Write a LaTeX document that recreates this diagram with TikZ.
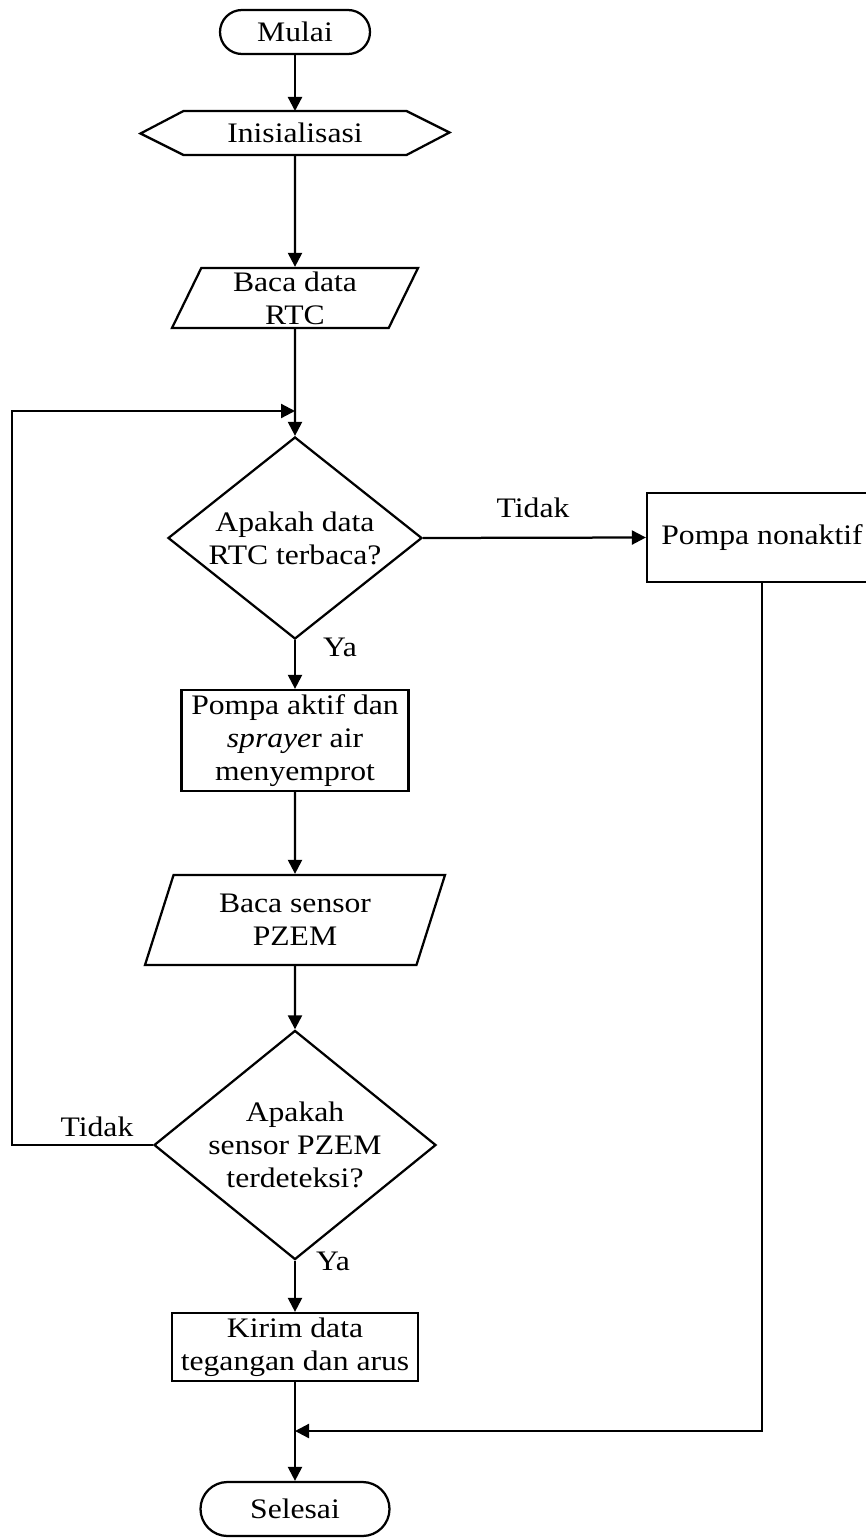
\documentclass[tikz,border=0pt]{standalone}
\usepackage{fontspec}
\setmainfont[FakeStretch=1.12]{Liberation Serif}
\usetikzlibrary{shapes.geometric,arrows.meta}

\begin{document}
\begin{tikzpicture}[x=0.4pt,y=-0.4pt,
  every node/.style={font=\fontsize{11.3}{13.2}\selectfont},
  flowline/.style={line width=0.9pt},
  arrowline/.style={flowline,-{Triangle[length=5.6pt,width=5.6pt]}},
  terminal/.style={draw,line width=0.9pt,rectangle,rounded corners=8.8pt,inner sep=0pt},
  hexbody/.style={inner sep=0pt,minimum width=88.8pt,minimum height=17.2pt},
  iobox/.style={draw,line width=0.9pt,trapezium,trapezium left angle=61,trapezium right angle=119,
    trapezium stretches body,inner sep=0pt,align=center},
  process/.style={draw,line width=0.9pt,rectangle,inner sep=0pt,align=center},
  decision/.style={draw,line width=0.9pt,diamond,inner sep=-3pt,align=center}]
\useasboundingbox (0,0) rectangle (866,1539);

% Draw the blocks
\node[terminal,minimum width=60pt,minimum height=17.6pt] (start) at (295,32) {Mulai};
\node[hexbody] (init) at (295,133) {Inisialisasi};
\draw[flowline] (init.north west) -- (init.north east) -- ++(43,21.5) -- (init.south east)
  -- (init.south west) -- ++(-43,-21.5) -- cycle;
\node[iobox,minimum width=98.4pt,minimum height=24pt] (rtc) at (295,298) {Baca data\\RTC};
\node[decision,minimum width=101.6pt,minimum height=80.8pt] (q1) at (295,538) {Apakah data\\RTC terbaca?};
\node[process,minimum width=92pt,minimum height=35.6pt] (nonaktif) at (762,537.5) {Pompa nonaktif};
\node[process,minimum width=90.8pt,minimum height=40.4pt] (aktif) at (295,740.5)
  {Pompa aktif dan\\\textit{spraye}r air\\menyemprot};
\node[iobox,minimum width=120pt,minimum height=36pt] (pzem) at (295,920) {Baca sensor\\PZEM};
\node[decision,minimum width=112.8pt,minimum height=70.4pt] (q2) at (295,1145)
  {Apakah\\sensor PZEM\\terdeteksi?};
\node[process,minimum width=98.4pt,minimum height=27.2pt] (kirim) at (295,1347)
  {Kirim data\\tegangan dan arus};
\node[terminal,rounded corners=10.8pt,minimum width=75.6pt,minimum height=21.6pt] (stop) at (295,1509) {Selesai};

% Draw the labels
\node (tidak1) at (533,508) {Tidak};
\node (ya1) at (340,647) {Ya};
\node (tidak2) at (97,1127) {Tidak};
\node (ya2) at (333,1261) {Ya};

% Draw the connectors
\coordinate (merge1) at (295,411);
\coordinate (loopx) at (12,0);
\coordinate (merge2) at (295,1431);
\draw[arrowline] (start) -- (init);
\draw[arrowline] (init.south) -- (rtc.north);
\draw[arrowline] (rtc.south) -- (q1.north);
\draw[arrowline] (q1.east) -- (nonaktif.west);
\draw[arrowline] (q1.south) -- (aktif.north);
\draw[arrowline] (aktif.south) -- (pzem.north);
\draw[arrowline] (pzem.south) -- (q2.north);
\draw[arrowline] (q2.west) -- (q2.west -| loopx) |- (merge1);
\draw[arrowline] (q2.south) -- (kirim.north);
\draw[arrowline] (kirim.south) -- (stop.north);
\draw[arrowline] (nonaktif.south) |- (merge2);
\end{tikzpicture}
\end{document}
